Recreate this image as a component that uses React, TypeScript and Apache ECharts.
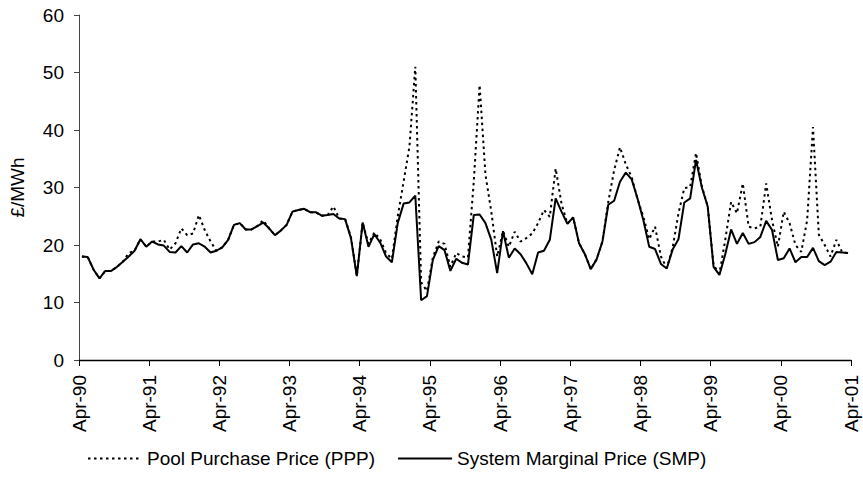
import React, { useEffect, useRef } from "react";
import * as echarts from "echarts";

// Monthly values Apr-90 .. Mar-01 (132 months), £/MWh
const smp: number[] = [
  18.0, 17.9, 15.7, 14.2, 15.5, 15.5, 16.2, 17.1, 18.0, 19.0, 21.0, 19.7,
  20.6, 20.1, 19.9, 18.8, 18.7, 19.8, 18.7, 20.1, 20.3, 19.7, 18.7, 19.0,
  19.6, 20.9, 23.5, 23.8, 22.7, 22.7, 23.3, 23.9, 22.9, 21.7, 22.5, 23.5,
  25.8, 26.1, 26.3, 25.7, 25.7, 25.1, 25.2, 25.4, 24.6, 24.5, 21.2, 14.6,
  23.9, 19.7, 21.9, 20.4, 18.0, 17.0, 23.8, 27.2, 27.4, 28.6, 10.4, 11.1,
  17.4, 19.8, 19.1, 15.5, 17.6, 16.9, 16.6, 25.2, 25.3, 23.8, 20.9, 15.1,
  22.4, 17.8, 19.4, 18.4, 16.8, 14.9, 18.7, 19.0, 20.9, 28.1, 25.8, 23.7,
  24.8, 20.3, 18.4, 15.8, 17.5, 20.6, 27.0, 27.7, 31.0, 32.6, 31.4, 28.1,
  24.3, 19.7, 19.3, 16.7, 15.9, 19.2, 21.0, 27.4, 28.1, 34.8, 30.0, 26.7,
  16.2, 14.8, 18.4, 22.7, 20.2, 22.1, 20.2, 20.5, 21.4, 24.2, 22.6, 17.4,
  17.7, 19.4, 17.0, 17.9, 17.9, 19.5, 17.2, 16.5, 17.1, 18.8, 18.7, 18.6,
];

const ppp: number[] = [
  18.0, 17.9, 15.7, 14.2, 15.5, 15.5, 16.2, 17.1, 18.6, 19.0, 21.0, 19.7,
  20.6, 20.6, 20.9, 19.2, 20.3, 22.9, 21.7, 22.0, 25.2, 22.6, 20.6, 19.0,
  19.6, 20.9, 23.5, 23.8, 22.7, 22.7, 23.3, 24.3, 22.9, 21.7, 22.5, 23.5,
  25.8, 26.1, 26.3, 25.7, 25.7, 25.1, 25.2, 26.7, 24.6, 24.5, 21.4, 14.6,
  23.9, 20.2, 22.2, 21.0, 18.6, 17.6, 25.0, 31.0, 37.1, 51.0, 13.5, 12.0,
  17.8, 20.6, 20.2, 16.2, 18.6, 18.0, 17.8, 31.0, 47.8, 32.2, 25.8, 18.0,
  22.4, 19.7, 22.3, 20.6, 21.2, 22.0, 23.8, 26.1, 24.9, 33.3, 27.2, 23.7,
  24.8, 20.3, 18.4, 15.8, 17.5, 20.6, 27.5, 33.0, 37.0, 34.0, 31.8, 28.0,
  24.9, 21.0, 23.2, 18.0, 16.0, 19.5, 25.5, 29.9, 30.1, 36.0, 30.2, 26.7,
  16.5, 15.0, 20.9, 27.5, 25.5, 30.7, 23.2, 22.9, 23.2, 30.7, 24.3, 19.7,
  25.8, 23.8, 20.0, 18.8, 24.3, 40.5, 21.8, 20.0, 18.0, 20.9, 18.7, 18.6,
];

const tickLabels: string[] = [
  "Apr-90", "Apr-91", "Apr-92", "Apr-93", "Apr-94", "Apr-95",
  "Apr-96", "Apr-97", "Apr-98", "Apr-99", "Apr-00", "Apr-01",
];

const seriesNames = ["Pool Purchase Price (PPP)", "System Marginal Price (SMP)"];
const yTitle = "£/MWh";

const FONT = "'Liberation Sans', Arial, sans-serif";

export default function App() {
  const ref = useRef<HTMLDivElement>(null);
  useEffect(() => {
    document.body.style.margin = "0";
    if (!ref.current) return;
    const chart = echarts.init(ref.current, undefined, { renderer: "svg" });
    const toPts = (arr: number[]) => arr.map((v, i) => [i + 0.5, v]);
    chart.setOption({
      animation: false,
      backgroundColor: "#ffffff",
      textStyle: { fontFamily: FONT },
      grid: { left: 79, right: 12, top: 15, bottom: 122 },
      legend: {
        left: 82,
        top: 444,
        itemWidth: 54,
        itemHeight: 12,
        itemGap: 22,
        itemStyle: { opacity: 0 },
        textStyle: { fontFamily: FONT, fontSize: 19, color: "#000" },
        data: seriesNames,
      },
      xAxis: {
        type: "value",
        min: 0,
        max: 132,
        interval: 12,
        splitLine: { show: false },
        axisLine: { show: true, lineStyle: { color: "#000", width: 1.3 } },
        axisTick: { show: true, length: 6, lineStyle: { color: "#000" } },
        axisLabel: {
          rotate: 90,
          margin: 15,
          fontSize: 19,
          color: "#000",
          fontFamily: FONT,
          formatter: (v: number) => tickLabels[Math.round(v / 12)] ?? "",
        },
      },
      yAxis: {
        type: "value",
        min: 0,
        max: 60,
        interval: 10,
        name: yTitle,
        nameLocation: "middle",
        nameRotate: 90,
        nameGap: 52,
        nameTextStyle: { fontSize: 19, color: "#000", fontFamily: FONT },
        splitLine: { show: false },
        axisLine: { show: true, lineStyle: { color: "#444", width: 1 } },
        axisTick: { show: true, length: 5, lineStyle: { color: "#444" } },
        axisLabel: { margin: 15, fontSize: 19, color: "#000", fontFamily: FONT },
      },
      series: [
        {
          name: seriesNames[0],
          type: "line",
          data: toPts(ppp),
          showSymbol: false,
          symbol: "none",
          lineStyle: { color: "#000", width: 2, type: [2.5, 3.5] },
          itemStyle: { color: "#000" },
          z: 2,
        },
        {
          name: seriesNames[1],
          type: "line",
          data: toPts(smp),
          showSymbol: false,
          symbol: "none",
          lineStyle: { color: "#000", width: 2, type: "solid" },
          itemStyle: { color: "#000" },
          z: 3,
        },
      ],
    });
    return () => chart.dispose();
  }, []);
  return <div ref={ref} style={{ width: 863, height: 482 }} />;
}
